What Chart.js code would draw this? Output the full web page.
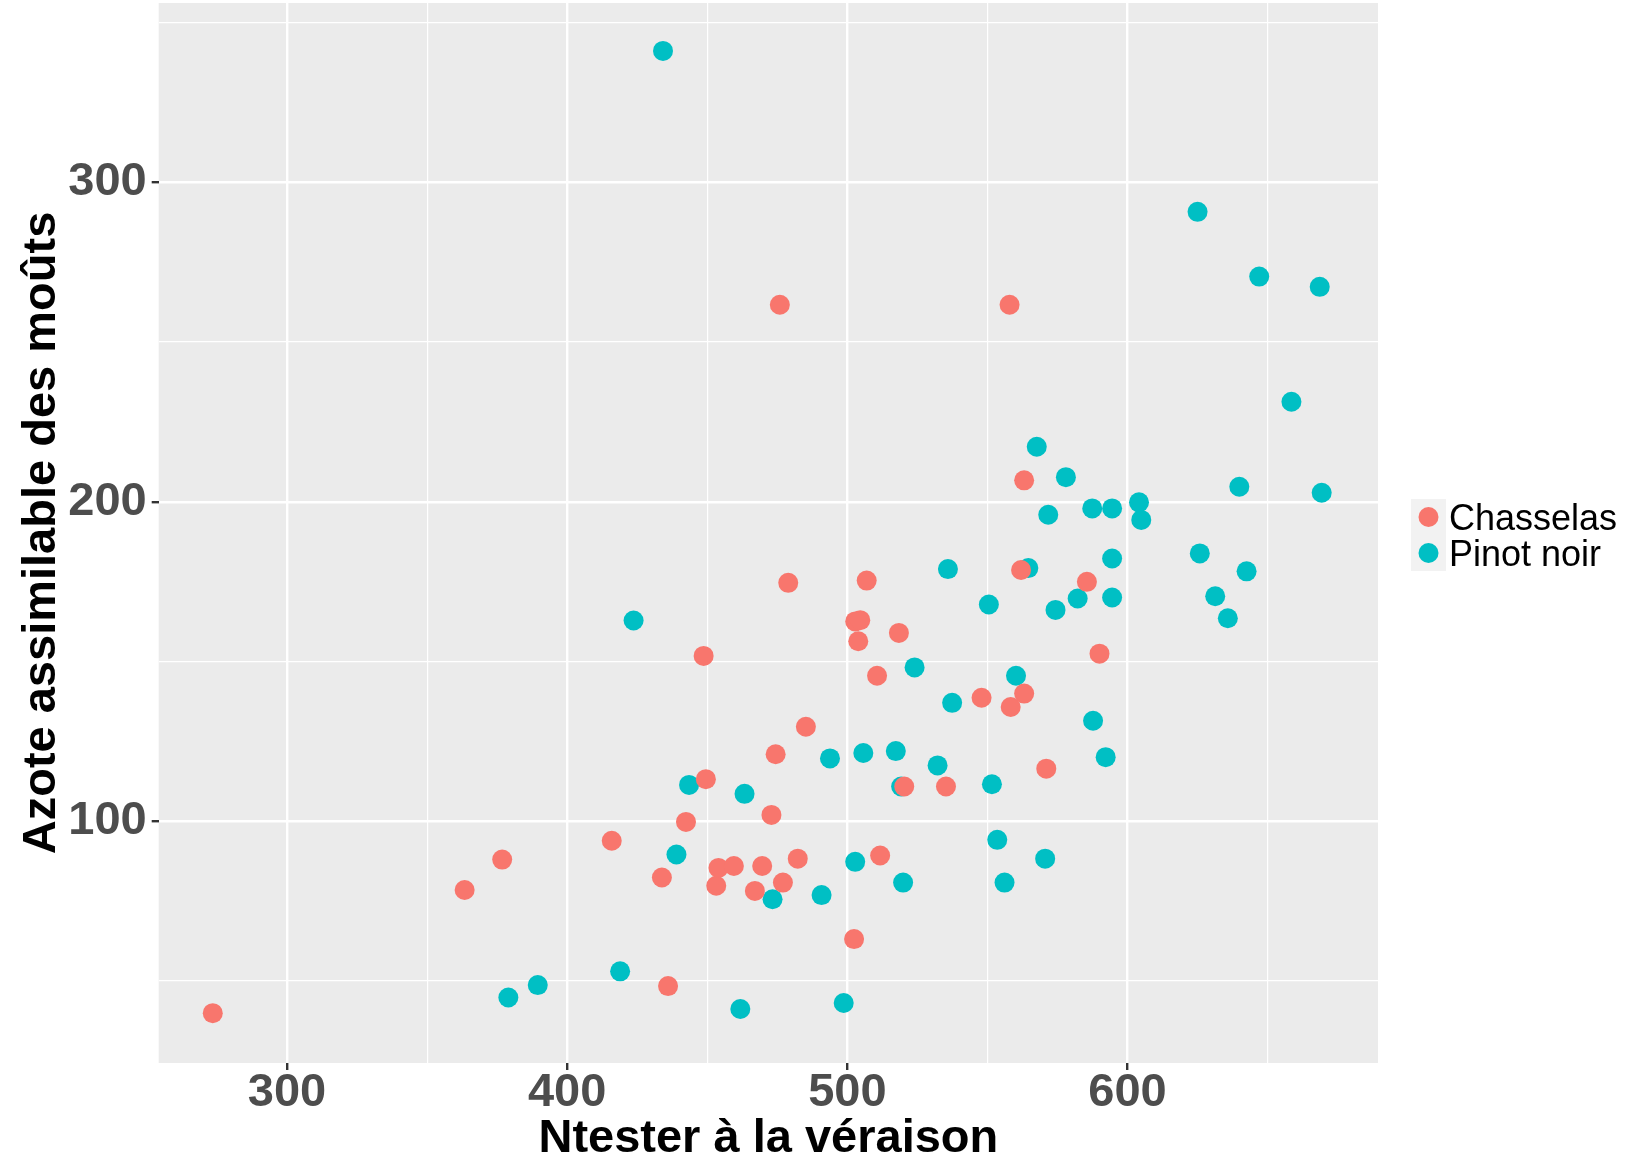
<!DOCTYPE html>
<html>
<head>
<meta charset="utf-8">
<script src="https://cdn.jsdelivr.net/npm/chart.js@4"></script>
<style>
  body { margin: 0; background: #fff; }
  canvas { display: block; }
</style>
</head>
<body>
<canvas id="myChart" width="1637" height="1167"></canvas>
<script>
// values
const chasselasX = [273.5, 363.4, 376.8, 415.9, 433.8, 436.0, 442.4, 448.7, 449.5, 453.2, 454.0, 459.5, 467.0, 469.6, 472.9, 474.4, 475.9, 477.0, 478.9, 482.3, 485.2, 502.4, 502.8, 504.6, 503.9, 506.9, 510.6, 511.7, 518.4, 520.3, 535.2, 547.9, 557.9, 558.3, 562.0, 563.1, 563.1, 571.0, 585.5, 590.0];
const chasselasY = [39.8, 78.4, 87.9, 93.8, 82.3, 48.3, 99.7, 151.7, 113.1, 79.7, 85.3, 85.9, 78.1, 85.9, 101.9, 120.9, 261.7, 80.7, 174.6, 88.2, 129.5, 63.0, 162.5, 162.9, 156.3, 175.3, 145.5, 89.2, 158.9, 110.8, 110.8, 138.6, 261.7, 135.7, 178.6, 206.7, 139.9, 116.4, 174.9, 152.4];
const pinotX = [379.0, 389.5, 418.9, 423.7, 434.2, 439.0, 443.5, 461.8, 463.3, 473.3, 490.8, 493.8, 498.7, 502.8, 505.7, 517.3, 519.2, 519.9, 524.0, 532.2, 535.9, 537.4, 550.5, 551.6, 553.5, 556.1, 560.2, 564.6, 567.6, 570.6, 571.7, 574.3, 578.0, 582.2, 587.4, 587.7, 592.2, 594.5, 594.5, 594.5, 604.1, 604.9, 625.0, 625.8, 631.3, 635.8, 639.9, 642.5, 647.0, 658.5, 668.6, 669.3];
const pinotY = [44.7, 48.6, 52.9, 162.8, 341.2, 89.5, 111.3, 41.1, 108.5, 75.5, 76.8, 119.6, 43.0, 87.2, 121.3, 121.9, 110.8, 80.7, 148.1, 117.4, 178.9, 137.0, 167.8, 111.5, 94.1, 80.7, 145.5, 179.2, 217.2, 88.2, 195.9, 166.1, 207.7, 169.7, 197.9, 131.4, 120.0, 197.9, 182.2, 170.0, 199.8, 194.3, 290.8, 183.8, 170.4, 163.5, 204.7, 178.2, 270.5, 231.3, 267.3, 202.8];
const seriesNames = ['Chasselas', 'Pinot noir'];
const seriesColors = ['#F8766D', '#00BFC4'];
const xTitle = 'Ntester à la véraison';
const yTitle = 'Azote assimilable des moûts';

const toPoints = (xs, ys) => xs.map((x, i) => ({x: x, y: ys[i]}));
const isMajor = c => c.tick && c.tick.value % 100 === 0;

const panelBg = {
    id: 'panelBg',
    beforeDraw(chart) {
        const {ctx, chartArea: a} = chart;
        ctx.save();
        ctx.fillStyle = '#FFFFFF';
        ctx.fillRect(0, 0, chart.width, chart.height);
        ctx.fillStyle = '#EBEBEB';
        ctx.fillRect(a.left, a.top, a.right - a.left, a.bottom - a.top);
        ctx.restore();
    }
};

// ggplot-like legend on the right
const sideLegend = {
    id: 'sideLegend',
    afterDraw(chart) {
        const ctx = chart.ctx;
        const x0 = 1411, y0 = 499, w = 35, rowH = 36;
        ctx.save();
        ctx.fillStyle = '#F2F2F2';
        ctx.fillRect(x0, y0, w, rowH * 2);
        chart.data.datasets.forEach((ds, i) => {
            const cy = y0 + 18 + i * rowH;
            ctx.beginPath();
            ctx.arc(x0 + w / 2, cy, 10, 0, Math.PI * 2);
            ctx.fillStyle = ds.backgroundColor;
            ctx.fill();
            ctx.fillStyle = '#000000';
            ctx.font = '36px "Liberation Sans", Arial, sans-serif';
            ctx.textBaseline = 'alphabetic';
            ctx.textAlign = 'left';
            ctx.fillText(ds.label, x0 + w + 3, cy + 12.5);
        });
        ctx.restore();
    }
};

const fam = '"Liberation Sans", Arial, sans-serif';
const xTickFont = {family: fam, size: 47, weight: 'bold', lineHeight: 1};
const yTickFont = {family: fam, size: 47, weight: 'bold', lineHeight: 1};
const titleFont = {family: fam, size: 47, weight: 'bold', lineHeight: 1.2};

const gridOpts = {
    color: '#FFFFFF',
    lineWidth: c => isMajor(c) ? 2.4 : 1.2,
    drawTicks: true,
    tickLength: 7,
    tickColor: c => isMajor(c) ? '#333333' : 'rgba(0,0,0,0)',
    tickWidth: c => isMajor(c) ? 2.4 : 0
};

// fixed axis boxes, no extra label overhang padding
const fixBox = (w, h) => s => {
    if (w !== null) s.width = w;
    if (h !== null) s.height = h;
    s.paddingTop = 0;
    s.paddingBottom = 0;
    s.paddingLeft = 0;
    s.paddingRight = 0;
};

const ctx = document.getElementById('myChart').getContext('2d');
const myChart = new Chart(ctx, {
    type: 'scatter',
    data: {
        datasets: [{
            label: seriesNames[0],
            data: toPoints(chasselasX, chasselasY),
            backgroundColor: seriesColors[0],
            borderWidth: 0,
            pointRadius: 10,
            pointHoverRadius: 10
        }, {
            label: seriesNames[1],
            data: toPoints(pinotX, pinotY),
            backgroundColor: seriesColors[1],
            borderWidth: 0,
            pointRadius: 10,
            pointHoverRadius: 10
        }]
    },
    options: {
        responsive: false,
        animation: false,
        devicePixelRatio: 1,
        layout: {autoPadding: false, padding: {top: 3, right: 259, bottom: 0, left: 0}},
        plugins: {
            legend: {display: false},
            tooltip: {enabled: false}
        },
        scales: {
            x: {
                type: 'linear',
                min: 254.2,
                max: 689.4,
                afterFit: fixBox(null, 104),
                border: {display: false},
                grid: gridOpts,
                ticks: {
                    stepSize: 50,
                    autoSkip: false,
                    includeBounds: false,
                    maxRotation: 0,
                    padding: 0,
                    color: '#4D4D4D',
                    font: xTickFont,
                    callback: v => v % 100 === 0 ? String(v) : ''
                },
                title: {
                    display: true,
                    text: xTitle,
                    color: '#000000',
                    font: titleFont,
                    padding: {top: 0, bottom: 0}
                }
            },
            y: {
                type: 'linear',
                min: 24.2,
                max: 356.2,
                afterFit: fixBox(158.7, null),
                border: {display: false},
                grid: gridOpts,
                ticks: {
                    stepSize: 50,
                    autoSkip: false,
                    includeBounds: false,
                    padding: 5,
                    color: '#4D4D4D',
                    font: yTickFont,
                    callback: v => v % 100 === 0 ? String(v) : ''
                },
                title: {
                    display: true,
                    text: yTitle,
                    color: '#000000',
                    font: titleFont,
                    padding: {top: 14, bottom: 0}
                }
            }
        }
    },
    plugins: [panelBg, sideLegend]
});
</script>
</body>
</html>
